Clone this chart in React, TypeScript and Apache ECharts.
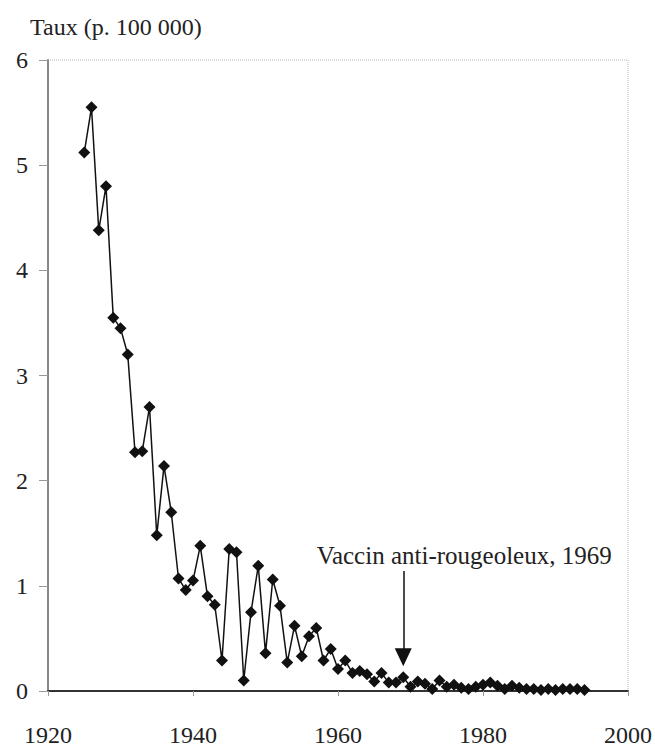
import React, { useEffect, useRef } from "react";
import * as echarts from "echarts";

const years: number[] = [
  1925, 1926, 1927, 1928, 1929, 1930, 1931, 1932, 1933, 1934,
  1935, 1936, 1937, 1938, 1939, 1940, 1941, 1942, 1943, 1944,
  1945, 1946, 1947, 1948, 1949, 1950, 1951, 1952, 1953, 1954,
  1955, 1956, 1957, 1958, 1959, 1960, 1961, 1962, 1963, 1964,
  1965, 1966, 1967, 1968, 1969, 1970, 1971, 1972, 1973, 1974,
  1975, 1976, 1977, 1978, 1979, 1980, 1981, 1982, 1983, 1984,
  1985, 1986, 1987, 1988, 1989, 1990, 1991, 1992, 1993, 1994,
];

const rates: number[] = [
  5.12, 5.55, 4.38, 4.8, 3.55, 3.45, 3.2, 2.27, 2.28, 2.7,
  1.48, 2.14, 1.7, 1.07, 0.96, 1.05, 1.38, 0.9, 0.82, 0.29,
  1.35, 1.32, 0.1, 0.75, 1.19, 0.36, 1.06, 0.81, 0.27, 0.62,
  0.33, 0.52, 0.6, 0.29, 0.4, 0.21, 0.29, 0.17, 0.19, 0.16,
  0.09, 0.17, 0.08, 0.08, 0.13, 0.04, 0.09, 0.07, 0.02, 0.1,
  0.04, 0.06, 0.03, 0.02, 0.04, 0.06, 0.08, 0.05, 0.02, 0.05,
  0.03, 0.02, 0.02, 0.01, 0.02, 0.01, 0.02, 0.02, 0.02, 0.01,
];

const xTicks = { min: 1920, max: 2000, interval: 20 };
const yTicks = { min: 0, max: 6, interval: 1 };

const yAxisTitle = "Taux (p. 100 000)";
const annotationText = "Vaccin anti-rougeoleux, 1969";
const vaccineYear = 1969;
const arrowFrom = 1.14;
const arrowTo = 0.32;
const labelAt = [1977.4, 1.284];

const FONT = "Liberation Serif";

export default function App() {
  const ref = useRef<HTMLDivElement>(null);

  useEffect(() => {
    if (!ref.current) return;
    const chart = echarts.init(ref.current, null, { renderer: "svg" });
    const data = years.map((y, i) => [y, rates[i]]);
    chart.setOption({
      animation: false,
      backgroundColor: "#ffffff",
      textStyle: { fontFamily: FONT },
      title: {
        text: yAxisTitle,
        left: 30,
        top: 15,
        padding: 0,
        textStyle: {
          fontFamily: FONT,
          fontSize: 24,
          fontWeight: "normal",
          color: "#222",
        },
      },
      grid: {
        left: 48,
        right: 27,
        top: 60,
        bottom: 54,
        show: true,
        borderColor: "#b8b8b8",
        borderWidth: 1,
        borderType: "dotted",
      },
      xAxis: {
        type: "value",
        min: xTicks.min,
        max: xTicks.max,
        interval: xTicks.interval,
        splitLine: { show: false },
        axisLine: { show: true, lineStyle: { color: "#333", width: 2 } },
        axisTick: { show: true, length: 5, lineStyle: { color: "#999" } },
        axisLabel: {
          fontFamily: FONT,
          fontSize: 24,
          color: "#222",
          margin: 32,
          formatter: (v: number) => String(v),
        },
      },
      yAxis: {
        type: "value",
        min: yTicks.min,
        max: yTicks.max,
        interval: yTicks.interval,
        splitLine: { show: false },
        axisLine: { show: true, lineStyle: { color: "#888", width: 2 } },
        axisTick: { show: true, length: 9, lineStyle: { color: "#999" } },
        axisLabel: {
          fontFamily: FONT,
          fontSize: 24,
          color: "#222",
          margin: 20,
        },
      },
      series: [
        {
          type: "line",
          data,
          symbol: "diamond",
          symbolSize: 12,
          showAllSymbol: true,
          lineStyle: { color: "#111", width: 1.5 },
          itemStyle: { color: "#111" },
          z: 3,
          markLine: {
            silent: true,
            symbol: ["none", "triangle"],
            symbolSize: [17, 18],
            lineStyle: { color: "#111", width: 1.5, type: "solid" },
            label: { show: false },
            data: [
              [
                { coord: [vaccineYear, arrowFrom] },
                { coord: [vaccineYear, arrowTo] },
              ],
            ],
          },
          markPoint: {
            silent: true,
            symbol: "circle",
            symbolSize: 0,
            label: {
              show: true,
              position: "inside",
              formatter: annotationText,
              fontFamily: FONT,
              fontSize: 25,
              color: "#222",
            },
            data: [{ coord: labelAt }],
          },
        },
      ],
    });
    return () => chart.dispose();
  }, []);

  return (
    <div
      ref={ref}
      style={{ position: "fixed", left: 0, top: 0, width: 655, height: 747 }}
    />
  );
}
